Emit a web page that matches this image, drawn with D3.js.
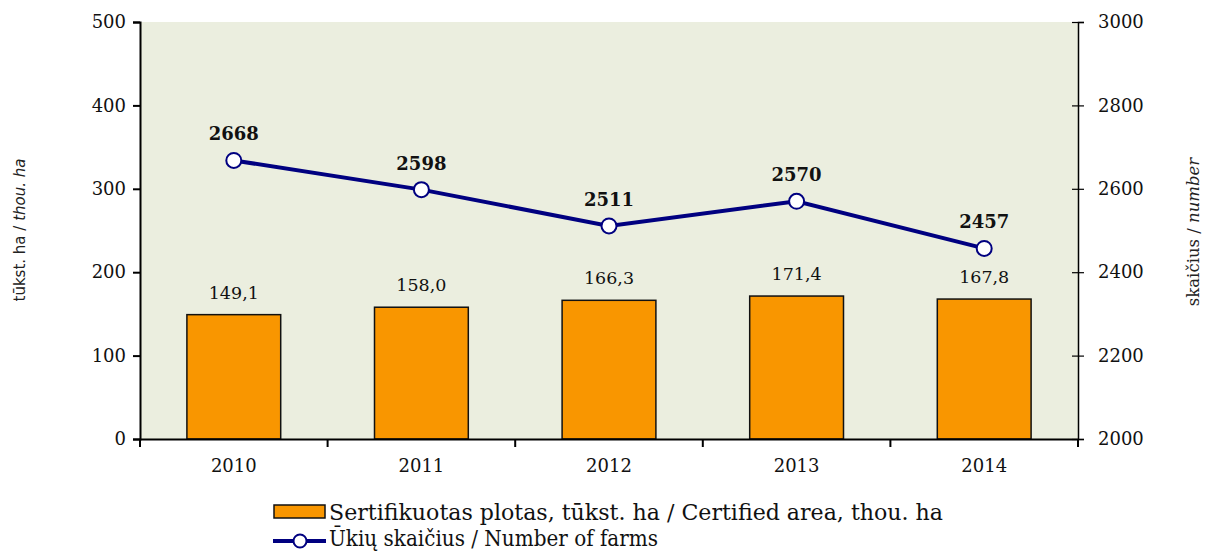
<!DOCTYPE html>
<html><head><meta charset="utf-8">
<script src="https://cdn.jsdelivr.net/npm/d3@7"></script>
<style>body{margin:0;background:#fff}svg{display:block}</style>
</head><body>
<svg id="c" width="1205" height="553"></svg>
<script>
const years = ["2010","2011","2012","2013","2014"];
const area = [149.1, 158.0, 166.3, 171.4, 167.8];
const farms = [2668, 2598, 2511, 2570, 2457];
const leftTicks = [0,100,200,300,400,500];
const rightTicks = [2000,2200,2400,2600,2800,3000];
const areaLabels = ["149,1","158,0","166,3","171,4","167,8"];

const svg = d3.select("#c");
const m = {l:140, r:1078, t:22, b:439};
const x = d3.scaleBand().domain(years).range([m.l,m.r]).paddingInner(0.5).paddingOuter(0.25);
const xb = d3.scaleBand().domain(years).range([m.l,m.r]);
const yL = d3.scaleLinear().domain([0,500]).range([m.b,m.t]);
const yR = d3.scaleLinear().domain([2000,3000]).range([m.b,m.t]);
const serif = "'DejaVu Serif', serif";

svg.append("rect").attr("x",m.l).attr("y",m.t).attr("width",m.r-m.l).attr("height",m.b-m.t).attr("fill","#EBEEDF");

// bars
svg.selectAll("rect.bar").data(area).join("rect").attr("class","bar")
  .attr("x",(d,i)=>x(years[i])).attr("width",x.bandwidth())
  .attr("y",d=>yL(d)).attr("height",d=>yL(0)-yL(d))
  .attr("fill","#F99600").attr("stroke","#111").attr("stroke-width",1.5);

svg.selectAll("text.bl").data(area).join("text").attr("class","bl")
  .attr("x",(d,i)=>x(years[i])+x.bandwidth()/2).attr("y",d=>yL(d)-16)
  .attr("text-anchor","middle").attr("font-family",serif).attr("font-size",17.5).attr("fill","#111")
  .text((d,i)=>areaLabels[i]);

// left axis
const axL = svg.append("g").attr("transform",`translate(${m.l},0)`)
  .call(d3.axisLeft(yL).tickValues(leftTicks).tickSize(7).tickPadding(7).tickFormat(d3.format("d")));
axL.select(".domain").attr("stroke","#000").attr("stroke-width",2);
axL.selectAll(".tick line").attr("stroke","#000").attr("stroke-width",2);
axL.selectAll("text").attr("font-family",serif).attr("font-size",18).attr("fill","#111");

// right axis
const axR = svg.append("g").attr("transform",`translate(${m.r},0)`)
  .call(d3.axisRight(yR).tickValues(rightTicks).tickSize(6).tickPadding(14).tickFormat(d3.format("d")));
axR.select(".domain").attr("stroke","#000").attr("stroke-width",1.5);
axR.selectAll(".tick line").attr("x1",-6).attr("stroke","#000").attr("stroke-width",1.2);
axR.selectAll("text").attr("font-family",serif).attr("font-size",18).attr("fill","#111");

// bottom axis
const axB = svg.append("g").attr("transform",`translate(0,${m.b})`)
  .call(d3.axisBottom(x).tickSize(0).tickPadding(20));
axB.select(".domain").attr("stroke","#000").attr("stroke-width",2);
axB.selectAll("text").attr("font-family",serif).attr("font-size",18).attr("fill","#111");
const bounds = years.map(d=>xb(d)).concat([m.r]);
svg.selectAll("line.xt").data(bounds).join("line").attr("class","xt")
  .attr("x1",d=>d).attr("x2",d=>d).attr("y1",m.b).attr("y2",m.b+8)
  .attr("stroke","#000").attr("stroke-width",2);

// line
const cx = i=>x(years[i])+x.bandwidth()/2;
const line = d3.line().x((d,i)=>cx(i)).y(d=>yR(d));
svg.append("path").datum(farms).attr("d",line).attr("fill","none").attr("stroke","#000080").attr("stroke-width",4);
svg.selectAll("circle.pt").data(farms).join("circle").attr("class","pt")
  .attr("cx",(d,i)=>cx(i)).attr("cy",d=>yR(d)).attr("r",7.5)
  .attr("fill","#fff").attr("stroke","#000080").attr("stroke-width",2);
svg.selectAll("text.fl").data(farms).join("text").attr("class","fl")
  .attr("x",(d,i)=>cx(i)).attr("y",d=>yR(d)-20)
  .attr("text-anchor","middle").attr("font-family",serif).attr("font-weight","bold").attr("font-size",18).attr("fill","#111")
  .text(d=>d);

// axis titles
const lt = svg.append("text").attr("transform","translate(25,230) rotate(-90)").attr("text-anchor","middle")
  .attr("font-family","'DejaVu Sans', sans-serif").attr("font-size",15).attr("fill","#222");
lt.append("tspan").text("tūkst. ha / ");
lt.append("tspan").attr("font-style","italic").text("thou. ha");
const rt = svg.append("text").attr("transform","translate(1199,232) rotate(-90)").attr("text-anchor","middle")
  .attr("font-family",serif).attr("font-size",16.5).attr("fill","#222");
rt.append("tspan").text("skaičius / ");
rt.append("tspan").attr("font-style","italic").text("number");

// legend
const lg = svg.append("g");
lg.append("rect").attr("x",274).attr("y",505).attr("width",51).attr("height",13)
  .attr("fill","#F99600").attr("stroke","#111").attr("stroke-width",1.5);
lg.append("text").attr("x",329).attr("y",520).attr("font-family",serif).attr("font-size",23)
  .attr("textLength",614).attr("lengthAdjust","spacingAndGlyphs").attr("fill","#111")
  .text("Sertifikuotas plotas, tūkst. ha / Certified area, thou. ha");
lg.append("line").attr("x1",273).attr("x2",326).attr("y1",541).attr("y2",541).attr("stroke","#000080").attr("stroke-width",4);
lg.append("circle").attr("cx",300).attr("cy",541).attr("r",6.5).attr("fill","#fff").attr("stroke","#000080").attr("stroke-width",2);
lg.append("text").attr("x",329).attr("y",546).attr("font-family",serif).attr("font-size",22.5)
  .attr("textLength",329).attr("lengthAdjust","spacingAndGlyphs").attr("fill","#111")
  .text("Ūkių skaičius / Number of farms");
</script>
</body></html>
